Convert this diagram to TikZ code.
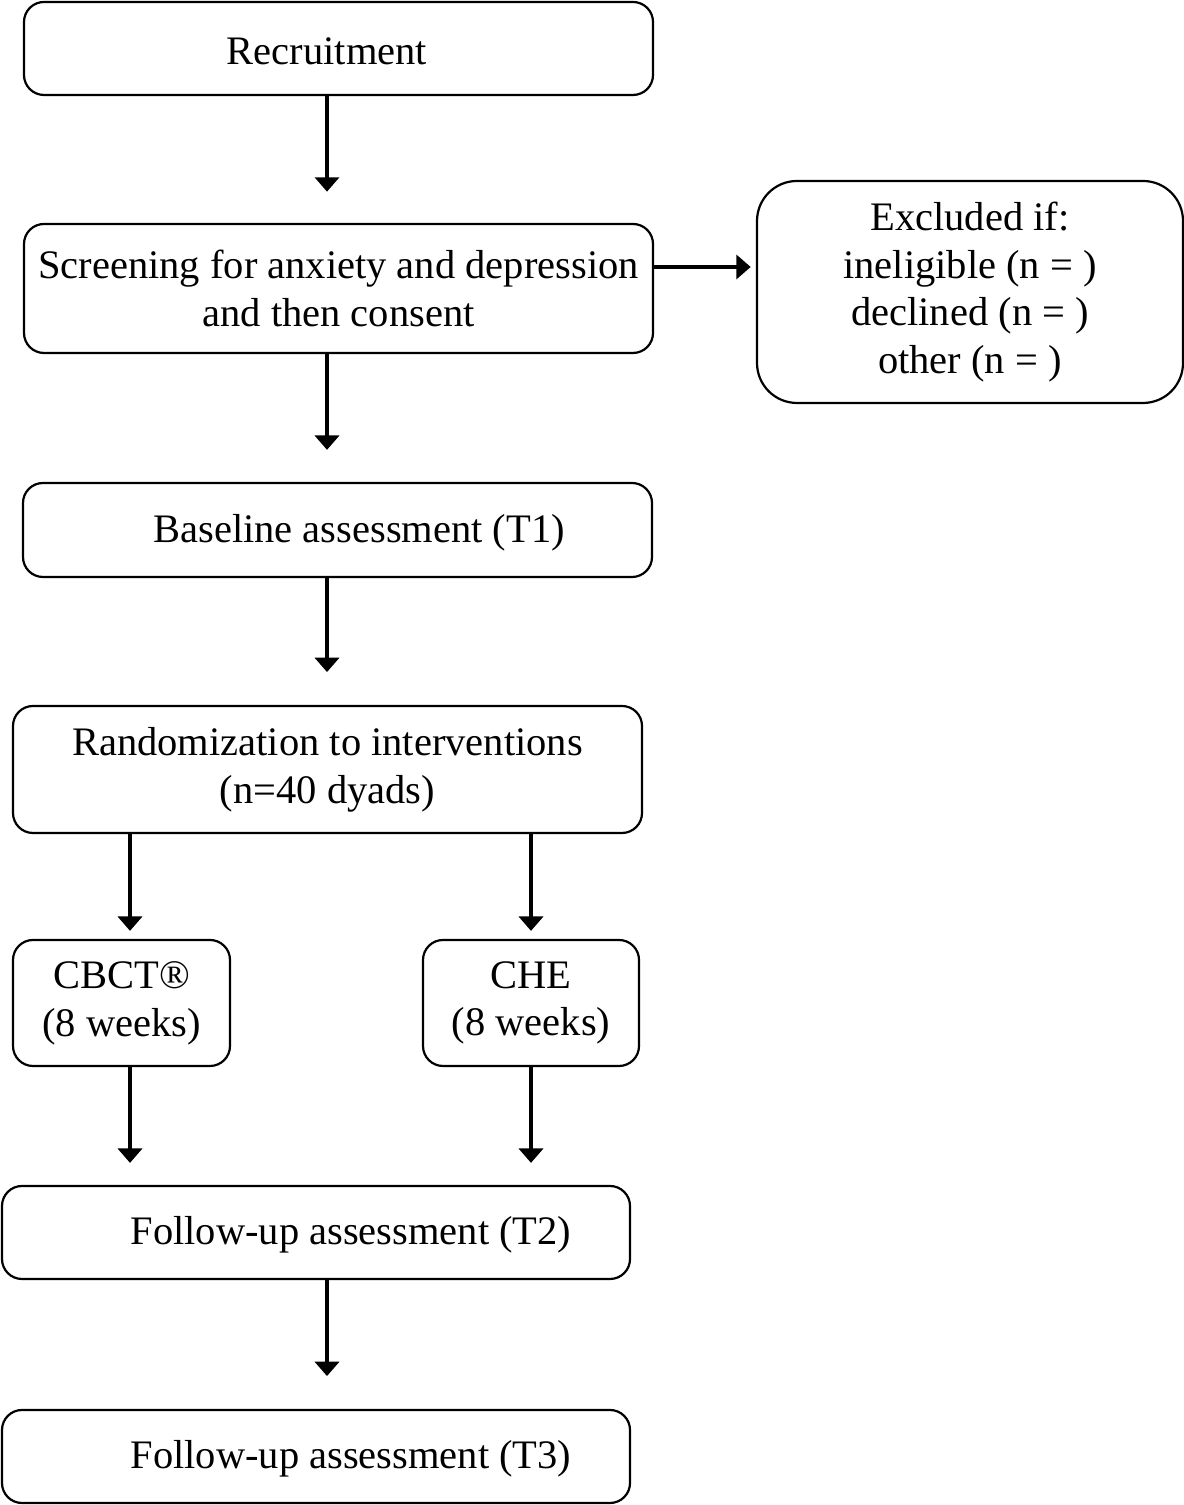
\documentclass[tikz,border=0pt]{standalone}
\usepackage{fontspec}
\setmainfont{Liberation Serif}
\usetikzlibrary{arrows.meta}

\begin{document}
\begin{tikzpicture}[
        box/.style={draw, line width=0.055cm, rounded corners=0.5cm, align=center,
            font=\fontsize{28.8}{34}\selectfont},
        arr/.style={line width=0.12cm, -{Triangle[width=0.6cm,length=0.36cm]}},
        every label/.style={font=\fontsize{28.8}{34}\selectfont, yshift=-0.06cm}]
        \useasboundingbox (0,0) rectangle (29.6,37.625);

        \node[box, minimum width=15.725cm, minimum height=2.325cm,
            label={[xshift=-0.29cm]center:Recruitment}] (rec) at (8.4625, 36.4125) {};
        \node[box, minimum width=15.725cm, minimum height=3.225cm] (scr) at (8.4625, 30.4125)
            {Screening for anxiety and depression\\and then consent};
        \node[box, minimum width=10.65cm, minimum height=5.55cm, rounded corners=1cm] (exc) at (24.25, 30.325)
            {Excluded if:\\ineligible (n = )\\declined (n = )\\other (n = )};
        \node[box, minimum width=15.725cm, minimum height=2.35cm,
            label={[xshift=0.54cm]center:Baseline assessment (T1)}] (base) at (8.4375, 24.375) {};
        \node[box, minimum width=15.725cm, minimum height=3.175cm] (rand) at (8.1875, 18.3875)
            {Randomization to interventions\\(n=40 dyads)};
        \node[box, minimum width=5.425cm, minimum height=3.15cm] (cbct) at (3.0375, 12.55)
            {CBCT\textregistered\\(8 weeks)};
        \node[box, minimum width=5.4cm, minimum height=3.15cm] (che) at (13.275, 12.55)
            {CHE\\(8 weeks)};
        \node[box, minimum width=15.7cm, minimum height=2.325cm,
            label={[xshift=0.875cm]center:Follow-up assessment (T2)}] (ttwo) at (7.9, 6.8125) {};
        \node[box, minimum width=15.7cm, minimum height=2.325cm,
            label={[xshift=0.875cm]center:Follow-up assessment (T3)}] (tthree) at (7.9, 1.2125) {};

        % arrow columns
        \coordinate (mid) at (8.175, 0);
        \coordinate (left) at (3.25, 0);
        \coordinate (right) at (13.275, 0);
        \coordinate (side) at (0, 30.95);

        \draw[arr, shorten >=0.78cm] (rec.south -| mid) -- (scr.north -| mid);
        \draw[arr, shorten >=0.13cm] (scr.east |- side) -- (exc.west |- side);
        \draw[arr, shorten >=0.8cm] (scr.south -| mid) -- (base.north -| mid);
        \draw[arr, shorten >=0.82cm] (base.south -| mid) -- (rand.north -| mid);
        \draw[arr, shorten >=0.2cm] (rand.south -| left) -- (cbct.north -| left);
        \draw[arr, shorten >=0.2cm] (rand.south -| right) -- (che.north -| right);
        \draw[arr, shorten >=0.55cm] (cbct.south -| left) -- (ttwo.north -| left);
        \draw[arr, shorten >=0.55cm] (che.south -| right) -- (ttwo.north -| right);
        \draw[arr, shorten >=0.82cm] (ttwo.south -| mid) -- (tthree.north -| mid);

    \end{tikzpicture}
\end{document}
